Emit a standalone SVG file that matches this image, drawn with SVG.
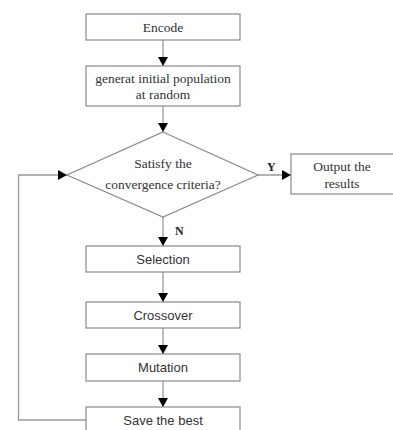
<svg xmlns="http://www.w3.org/2000/svg" width="393" height="430" viewBox="0 0 393 430">
<style>
.box{fill:#fff;stroke:#8a8a8a;stroke-width:1.2}
.ser{font-family:"Liberation Serif",serif;font-size:13.5px;fill:#333;text-anchor:middle}
.san{font-family:"Liberation Sans",Arial,sans-serif;font-size:13px;fill:#333;text-anchor:middle}
.lbl{font-family:"Liberation Serif",serif;font-size:12px;font-weight:bold;fill:#222}
.ln{fill:none;stroke:#999;stroke-width:1.3}
</style>
<defs>
<marker id="ah" markerWidth="9" markerHeight="10" refX="9" refY="5" orient="auto" markerUnits="userSpaceOnUse">
<path d="M0,0 L9,5 L0,10 Z" fill="#000"/>
</marker>
</defs>
<rect width="393" height="430" fill="#fff"/>
<g id="connectors">
<line class="ln" x1="163" y1="40" x2="163" y2="66" marker-end="url(#ah)"/>
<line class="ln" x1="163" y1="106" x2="163" y2="132" marker-end="url(#ah)"/>
<line class="ln" x1="258" y1="175" x2="291" y2="175" marker-end="url(#ah)"/>
<line class="ln" x1="163" y1="217" x2="163" y2="246" marker-end="url(#ah)"/>
<line class="ln" x1="163" y1="272" x2="163" y2="302" marker-end="url(#ah)"/>
<line class="ln" x1="163" y1="328" x2="163" y2="354" marker-end="url(#ah)"/>
<line class="ln" x1="163" y1="381" x2="163" y2="407" marker-end="url(#ah)"/>
<polyline class="ln" points="86,420 18.5,420 18.5,175 67,175" marker-end="url(#ah)"/>
<text class="lbl" x="267" y="171">Y</text>
<text class="lbl" x="175" y="235">N</text>
</g>
<g id="encode">
<rect class="box" x="86" y="14" width="154" height="26"/>
<text class="ser" x="163" y="31.5">Encode</text>
</g>
<g id="init">
<rect class="box" x="86" y="66" width="154" height="40"/>
<text class="ser" x="163" y="83">generat initial population</text>
<text class="ser" x="163" y="99">at random</text>
</g>
<g id="decision">
<polygon class="box" points="163,132 258,175 163,217 67,175"/>
<text class="ser" x="163" y="168">Satisfy the</text>
<text class="ser" x="163" y="189">convergence criteria?</text>
</g>
<g id="output">
<rect class="box" x="291" y="154" width="110" height="40"/>
<text class="ser" x="342" y="171">Output the</text>
<text class="ser" x="342" y="188">results</text>
</g>
<g id="selection">
<rect class="box" x="86" y="246" width="154" height="26"/>
<text class="san" x="163" y="264">Selection</text>
</g>
<g id="crossover">
<rect class="box" x="86" y="302" width="154" height="26"/>
<text class="san" x="163" y="320">Crossover</text>
</g>
<g id="mutation">
<rect class="box" x="86" y="354" width="154" height="27"/>
<text class="san" x="163" y="372">Mutation</text>
</g>
<g id="save">
<rect class="box" x="86" y="407" width="154" height="30"/>
<text class="san" x="163" y="425">Save the best</text>
</g>
</svg>
